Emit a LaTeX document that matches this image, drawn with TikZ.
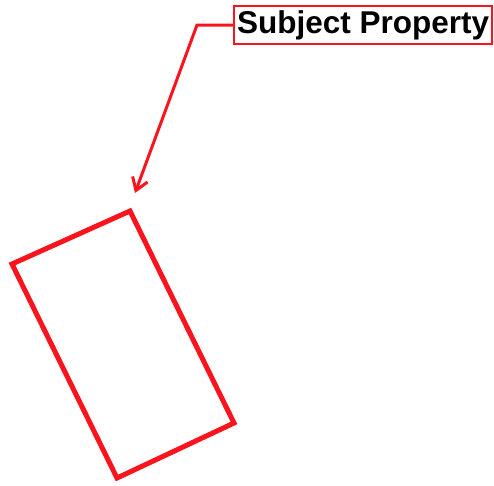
\documentclass[tikz,border=0pt]{standalone}
\usepackage{fontspec}
\setmainfont{Liberation Sans}
\usetikzlibrary{arrows.meta}
\definecolor{pred}{RGB}{250,20,30}
\tikzset{
  lbl/.style={draw=pred, line width=2.4pt, fill=white, font=\bfseries\fontsize{31.5}{34}\selectfont, inner xsep=3pt, inner ysep=3pt, anchor=west, text height=24pt, text depth=8pt},
  conn/.style={draw=pred, line width=3pt, -{Straight Barb[length=12pt,width=16pt,line width=3pt]}},
  lot/.style={draw=pred, line width=5pt, line join=miter}
}
\begin{document}
\begin{tikzpicture}[x=1pt,y=-1pt]
\useasboundingbox (0,0) rectangle (494,485);
\draw[lot] (12,264) -- (130,211) -- (234,423) -- (117,478) -- cycle;
\node[lbl] (label) at (233,25) {Subject Property};
\coordinate (bend) at (197,25);
\coordinate (tip) at (135,193);
\draw[conn] (label.west) -- (bend) -- (tip);
\end{tikzpicture}
\end{document}
